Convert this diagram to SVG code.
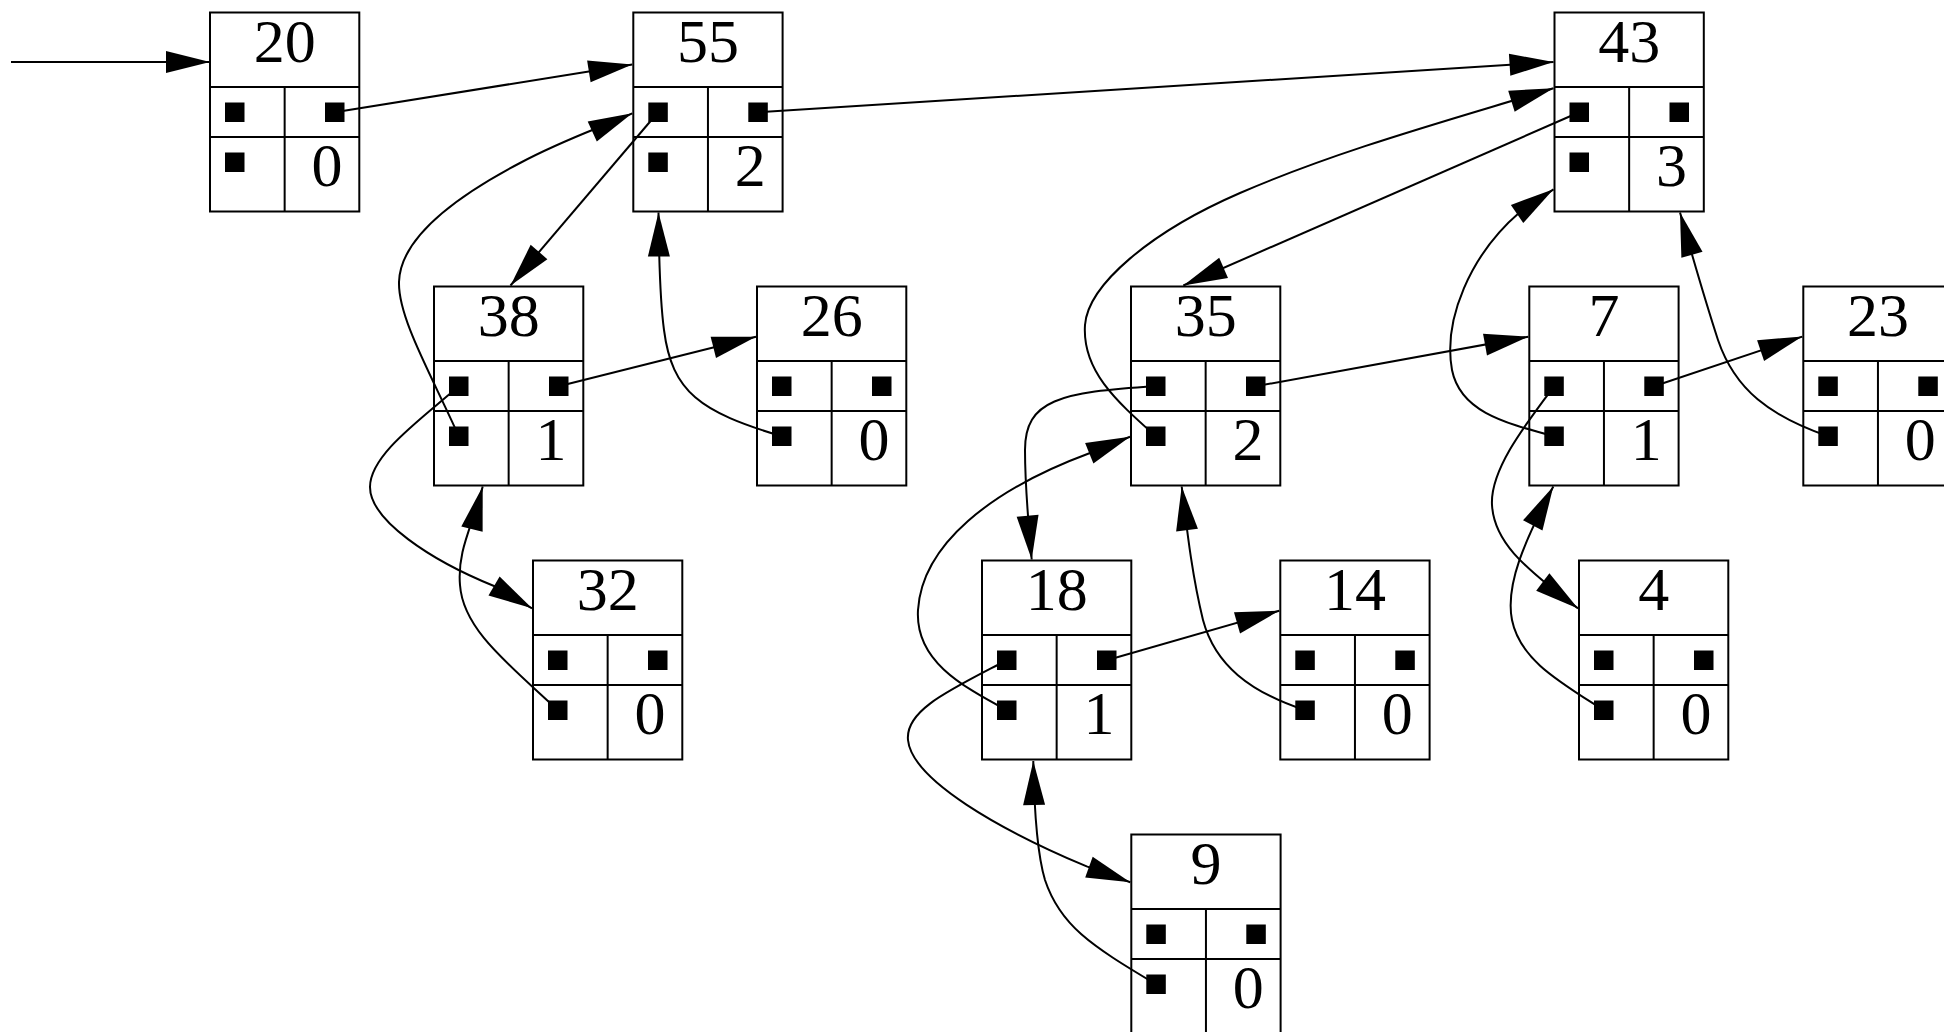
<svg xmlns="http://www.w3.org/2000/svg" width="1944" height="1032" viewBox="0 0 1944 1032">
<style>
.box{fill:#fff;stroke:#000;stroke-width:2}
.ln{stroke:#000;stroke-width:2;fill:none}
.sq{fill:#000}
.edge{fill:none;stroke:#000;stroke-width:2;marker-end:url(#ah)}
.t{font-family:"Liberation Serif","Times New Roman",serif;font-size:62px;text-anchor:middle;fill:#000}
</style>
<defs>
<marker id="ah" markerUnits="userSpaceOnUse" markerWidth="46" markerHeight="24" refX="44" refY="11" orient="auto" overflow="visible">
<path d="M0,0 L44,11 L0,22 z" fill="#000"/>
</marker>
<g id="frame">
<rect class="box" x="0" y="0" width="149.3" height="199"/>
<path class="ln" d="M0,74.5 H149.3 M0,124.5 H149.3 M74.65,74.5 V199"/>
<rect class="sq" x="15" y="90" width="19.5" height="19.5"/>
<rect class="sq" x="115" y="90" width="19.5" height="19.5"/>
<rect class="sq" x="15" y="140" width="19.5" height="19.5"/>
</g>
</defs>
<rect x="0" y="0" width="1944" height="1032" fill="#fff"/>

<g id="node20"><use href="#frame" x="210" y="12.5"/><text class="t" x="284.65" y="61.5">20</text><text class="t" x="327" y="185.5">0</text></g>
<g id="node55"><use href="#frame" x="633.3" y="12.5"/><text class="t" x="707.95" y="61.5">55</text><text class="t" x="750.3" y="185.5">2</text></g>
<g id="node43"><use href="#frame" x="1554.5" y="12.5"/><text class="t" x="1629.15" y="61.5">43</text><text class="t" x="1671.5" y="185.5">3</text></g>
<g id="node38"><use href="#frame" x="434" y="286.5"/><text class="t" x="508.65" y="335.5">38</text><text class="t" x="551" y="459.5">1</text></g>
<g id="node26"><use href="#frame" x="757" y="286.5"/><text class="t" x="831.65" y="335.5">26</text><text class="t" x="874" y="459.5">0</text></g>
<g id="node35"><use href="#frame" x="1131" y="286.5"/><text class="t" x="1205.65" y="335.5">35</text><text class="t" x="1248" y="459.5">2</text></g>
<g id="node7"><use href="#frame" x="1529.3" y="286.5"/><text class="t" x="1603.95" y="335.5">7</text><text class="t" x="1646.3" y="459.5">1</text></g>
<g id="node23"><use href="#frame" x="1803.3" y="286.5"/><text class="t" x="1877.95" y="335.5">23</text><text class="t" x="1920.3" y="459.5">0</text></g>
<g id="node32"><use href="#frame" x="533" y="560.5"/><text class="t" x="607.65" y="609.5">32</text><text class="t" x="650" y="733.5">0</text></g>
<g id="node18"><use href="#frame" x="982" y="560.5"/><text class="t" x="1056.65" y="609.5">18</text><text class="t" x="1099" y="733.5">1</text></g>
<g id="node14"><use href="#frame" x="1280.3" y="560.5"/><text class="t" x="1354.95" y="609.5">14</text><text class="t" x="1397.3" y="733.5">0</text></g>
<g id="node4"><use href="#frame" x="1579" y="560.5"/><text class="t" x="1653.65" y="609.5">4</text><text class="t" x="1696" y="733.5">0</text></g>
<g id="node9"><use href="#frame" x="1131.3" y="834.5"/><text class="t" x="1205.95" y="883.5">9</text><text class="t" x="1248.3" y="1007.5">0</text></g>

<g id="edges">
<path class="edge" d="M11,62 L210,62"/>
<path class="edge" d="M334.75,112.25 L632.3,64.5"/>
<path class="edge" d="M758.05,112.25 L1553.5,62"/>
<path class="edge" d="M658.05,112.25 L510.5,285.5"/>
<path class="edge" d="M458.75,436.25 C432,376 398,318 399,282 C400,245 440,205 520,163 C565,139 600,128 632.3,113.3"/>
<path class="edge" d="M781.75,436.25 C700,412 672,392 664,330 C660,300 659,270 658.5,212.5"/>
<path class="edge" d="M558.75,386.25 L756,336.7"/>
<path class="edge" d="M458.75,386.25 C420,420 370,455 370,487 C370,520 430,560 494,586 L532,608.3"/>
<path class="edge" d="M557.75,710.25 C510,665 463,630 460,585 C457,550 473,525 482.7,486.5"/>
<path class="edge" d="M1579.25,112.25 L1183.3,285.5"/>
<path class="edge" d="M1155.75,436.25 C1115,400 1082,370 1085,325 C1088,285 1150,232 1240,193 C1340,149.7 1450,120 1553.5,88.3"/>
<path class="edge" d="M1255.75,386.25 L1528.3,336.7"/>
<path class="edge" d="M1155.75,386.25 C1060,392 1025,400 1025,450 C1025,480 1028,520 1031.7,559.5"/>
<path class="edge" d="M1006.75,710.25 C960,685 915,660 918,610 C922,545 990,490 1090,453 L1130,436.7"/>
<path class="edge" d="M1305.05,710.25 C1250,692 1215,665 1203,620 C1192,575 1187,530 1181.7,486.5"/>
<path class="edge" d="M1106.75,660.25 L1279.3,610.7"/>
<path class="edge" d="M1006.75,660.25 C950,690 905,710 908,740 C912,780 1000,830 1086.7,866.4 L1130.3,882.2"/>
<path class="edge" d="M1156.05,984.25 C1090,945 1060,925 1045,880 C1036,850 1034,800 1033.3,761"/>
<path class="edge" d="M1554.05,436.25 C1500,422 1460,410 1452,370 C1443,320 1470,255 1520,212 L1553.5,189.3"/>
<path class="edge" d="M1654.05,386.25 L1802.3,336.6"/>
<path class="edge" d="M1828.05,436.25 C1770,416 1735,390 1718,340 C1705,300 1692,255 1680,212.5"/>
<path class="edge" d="M1554.05,386.25 C1525,425 1490,470 1492,505 C1494,540 1520,565 1578,608.4"/>
<path class="edge" d="M1603.75,710.25 C1560,682 1520,660 1512,620 C1505,585 1525,540 1553.3,486.5"/>
</g>
</svg>
